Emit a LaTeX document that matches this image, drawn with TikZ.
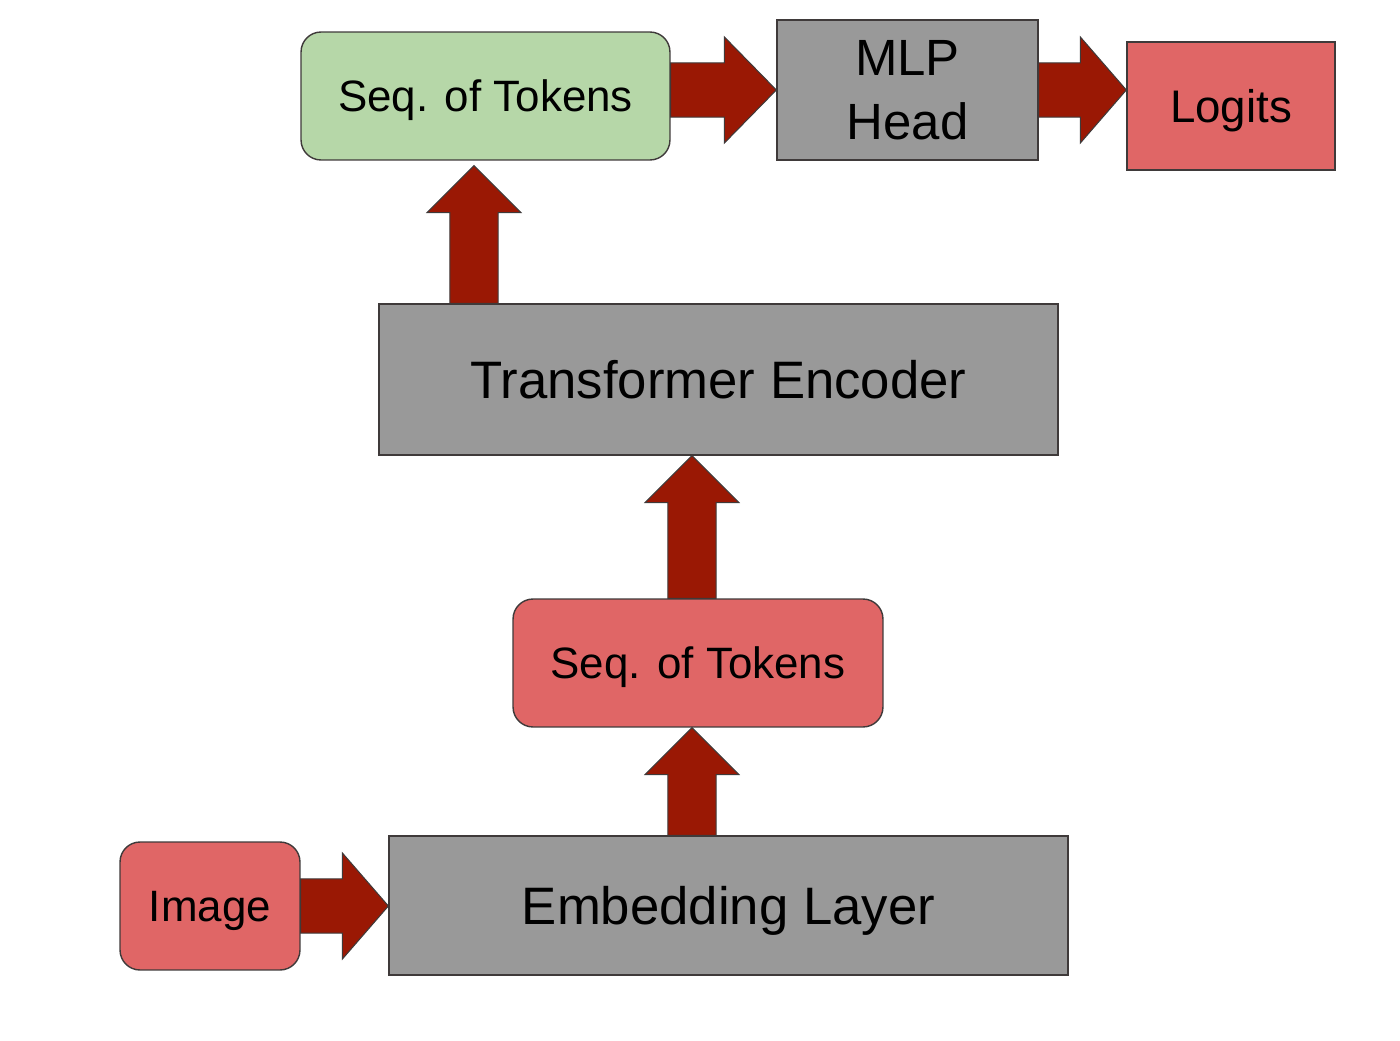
\documentclass[tikz,border=0pt]{standalone}
\usepackage{fontspec}
\setmainfont{Liberation Sans}
\usetikzlibrary{calc}
\definecolor{tokgreen}{HTML}{B6D7A8}
\definecolor{tokred}{HTML}{E06666}
\definecolor{layergray}{HTML}{999999}
\definecolor{flowred}{HTML}{9A1804}
\definecolor{edgegray}{HTML}{3F3A3A}
\begin{document}
\begin{tikzpicture}[x=0.02cm, y=-0.02cm,
  block/.style={draw=edgegray, line width=0.8pt, fill=layergray, inner sep=0pt,
    align=center, text depth=0pt, font=\fontsize{30}{36}\selectfont},
  tokens/.style={block, rounded corners=0.4cm, font=\fontsize{25}{30}\selectfont},
  flow/.style n args={3}{draw=edgegray, fill=flowred, line width=0.6pt, line join=miter,
    to path={let \p1=(\tikztostart), \p2=(\tikztotarget),
      \n1={atan2(\y2-\y1,\x2-\x1)}, \n2={veclen(\x2-\x1,\y2-\y1)-#3} in
      ($(\p1)+(\n1+90:#1)$) -- ++(\n1:\n2) -- ($(\p2)+(\n1+180:#3)+(\n1+90:#2)$)
      -- (\p2) -- ($(\p2)+(\n1+180:#3)+(\n1-90:#2)$)
      -- ($(\p2)+(\n1+180:#3)+(\n1-90:#1)$) -- ($(\p1)+(\n1-90:#1)$) -- cycle}}]
  \useasboundingbox (0,0) rectangle (1400,1041);

  % boxes
  \node[tokens, fill=tokgreen, minimum width=7.38cm, minimum height=2.56cm] (seqtop) at (485.5,96) {Seq. of Tokens};
  \node[block, minimum width=5.22cm, minimum height=2.8cm, font=\fontsize{29}{36}\selectfont] (mlp) at (907.5,90) {MLP\\Head};
  \node[block, fill=tokred, minimum width=4.16cm, minimum height=2.56cm, font=\fontsize{26}{30}\selectfont] (logits) at (1231,106) {Logits};
  \node[block, minimum width=13.58cm, minimum height=3.02cm] (encoder) at (718.5,379.5) {Transformer Encoder};
  \node[tokens, fill=tokred, minimum width=7.4cm, minimum height=2.56cm] (seqmid) at (698,663) {Seq. of Tokens};
  \node[block, minimum width=13.58cm, minimum height=2.78cm] (embed) at (728.5,905.5) {Embedding Layer};
  \node[tokens, fill=tokred, minimum width=3.6cm, minimum height=2.56cm] (image) at (210,906) {Image};

  % arrows
  \coordinate (upL) at (474,0);
  \coordinate (upM) at (692,0);
  \draw[flow={15.4pt}{30.2pt}{26.2pt}] (image.east) to (embed.west |- image);
  \draw[flow={13.7pt}{26.7pt}{26.7pt}] (embed.north -| upM) to (seqmid.south -| upM);
  \draw[flow={13.7pt}{26.7pt}{26.7pt}] (seqmid.north -| upM) to (encoder.south -| upM);
  \draw[flow={13.7pt}{26.7pt}{26.7pt}] (encoder.north -| upL) to ([yshift=-0.1cm]seqtop.south -| upL);
  \draw[flow={15.4pt}{30.2pt}{29.6pt}] (seqtop.east |- mlp) to (mlp.west);
  \draw[flow={15.4pt}{30.2pt}{26.2pt}] (mlp.east) to (logits.west |- mlp);
\end{tikzpicture}
\end{document}
